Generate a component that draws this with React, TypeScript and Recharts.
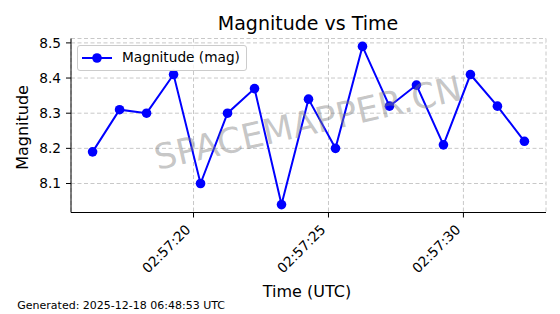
import { LineChart, Line, XAxis, YAxis, CartesianGrid, Legend } from "recharts";

// seconds after 02:57:00 UTC
const timeSec = [
  16.26, 17.26, 18.26, 19.26, 20.26, 21.26, 22.26, 23.26, 24.26,
  25.26, 26.26, 27.26, 28.26, 29.26, 30.26, 31.26, 32.26,
];
const magnitude = [
  8.19, 8.31, 8.3, 8.41, 8.1, 8.3, 8.37, 8.04, 8.34,
  8.2, 8.49, 8.32, 8.38, 8.21, 8.41, 8.32, 8.22,
];
const xTicks = [20, 25, 30];
const yTicks = [8.1, 8.2, 8.3, 8.4, 8.5];

const chartData = timeSec.map((t, i) => ({ t, mag: magnitude[i] }));

const FONT = "'DejaVu Sans', sans-serif";
const X_DOMAIN: [number, number] = [15.46, 33.06];
const Y_DOMAIN: [number, number] = [8.0175, 8.5125];

function formatTime(sec: number): string {
  return `02:57:${String(sec).padStart(2, "0")}`;
}

function RotatedTick(props: any) {
  const { x, y, payload } = props;
  const px = x - 2;
  const py = y + 11;
  return (
    <text
      x={px}
      y={py}
      transform={`rotate(-45, ${px}, ${py})`}
      textAnchor="end"
      fontSize={13.7}
      fontFamily={FONT}
      fill="#000"
    >
      {formatTime(payload.value)}
    </text>
  );
}

function LegendBox() {
  return (
    <div
      style={{
        width: 168,
        height: 24,
        border: "1px solid #cccccc",
        borderRadius: 3,
        background: "rgba(255,255,255,0.8)",
        position: "relative",
        fontFamily: FONT,
        fontSize: 13.7,
      }}
    >
      <svg width={40} height={24} style={{ position: "absolute", left: 0, top: 0 }}>
        <line x1={4} x2={34} y1={12} y2={12} stroke="#0000ff" strokeWidth={2} />
        <circle cx={19} cy={12} r={4.8} fill="#0000ff" />
      </svg>
      <span style={{ position: "absolute", left: 44, top: 3, whiteSpace: "nowrap" }}>
        Magnitude (mag)
      </span>
    </div>
  );
}

export default function App() {
  return (
    <div style={{ position: "absolute", left: 0, top: 0, width: 560, height: 314, background: "#fff" }}>
      <LineChart
        width={560}
        height={314}
        data={chartData}
        margin={{ top: 38.5, right: 14, left: 11, bottom: 41.5 }}
      >
        <CartesianGrid stroke="#c8c8c8" strokeDasharray="4 2.5" />
        <XAxis
          dataKey="t"
          type="number"
          domain={X_DOMAIN}
          allowDataOverflow
          ticks={xTicks}
          height={60}
          tick={<RotatedTick />}
          tickSize={5}
          axisLine={{ stroke: "#000" }}
          tickLine={{ stroke: "#000" }}
        />
        <XAxis
          xAxisId="top"
          orientation="top"
          type="number"
          domain={X_DOMAIN}
          allowDataOverflow
          height={0}
          tick={false}
          tickLine={false}
          axisLine={{ stroke: "#000" }}
        />
        <YAxis
          type="number"
          domain={Y_DOMAIN}
          allowDataOverflow
          ticks={yTicks}
          width={60}
          tickSize={5}
          tickMargin={5}
          tickFormatter={(v: number) => v.toFixed(1)}
          tick={{ fontSize: 13.7, fontFamily: FONT, fill: "#000" }}
          axisLine={{ stroke: "#000" }}
          tickLine={{ stroke: "#000" }}
        />
        <YAxis
          yAxisId="right"
          orientation="right"
          type="number"
          domain={Y_DOMAIN}
          allowDataOverflow
          width={0}
          tick={false}
          tickLine={false}
          axisLine={{ stroke: "#000" }}
        />
        <Legend
          layout="horizontal"
          verticalAlign="middle"
          align="center"
          content={<LegendBox />}
          wrapperStyle={{ left: 77, top: 45, width: 170, height: 26 }}
        />
        <Line
          type="linear"
          dataKey="mag"
          name="Magnitude (mag)"
          stroke="#0000ff"
          strokeWidth={2}
          dot={{ r: 4.8, fill: "#0000ff", stroke: "none" }}
          activeDot={false}
          isAnimationActive={false}
        />
      </LineChart>
      <svg
        width={560}
        height={314}
        style={{ position: "absolute", left: 0, top: 0, pointerEvents: "none" }}
        fontFamily={FONT}
      >
        <text x={308} y={30} textAnchor="middle" fontSize={19} fill="#000">
          Magnitude vs Time
        </text>
        <text
          x={28.4}
          y={127.5}
          transform="rotate(-90, 28.4, 127.5)"
          textAnchor="middle"
          fontSize={16}
          fill="#000"
        >
          Magnitude
        </text>
        <text x={307} y={296.5} textAnchor="middle" fontSize={16} fill="#000">
          Time (UTC)
        </text>
        <text x={17.3} y={308.5} fontSize={11} fill="#000">
          Generated: 2025-12-18 06:48:53 UTC
        </text>
        <text
          x={308}
          y={123}
          transform="rotate(-13, 308, 123)"
          textAnchor="middle"
          dominantBaseline="central"
          fontSize={35}
          fill="#808080"
          fillOpacity={0.45}
        >
          SPACEMAPPER.CN
        </text>
      </svg>
    </div>
  );
}
